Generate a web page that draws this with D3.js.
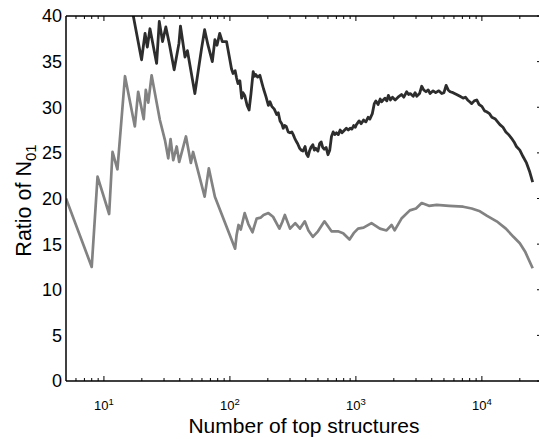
<!DOCTYPE html>
<html>
<head>
<meta charset="utf-8">
<script src="https://cdn.jsdelivr.net/npm/d3@7"></script>
<style>
  html, body { margin: 0; padding: 0; background: #fff; }
  svg { display: block; font-family: "Liberation Sans", Arial, sans-serif; }
</style>
</head>
<body>
<svg id="chart" width="539" height="439"></svg>
<script>
// Ratio of N01 against the number of top structures (log scale)
const darkN = [16, 17, 19.9, 21.2, 22.1, 23.2, 26.2, 27.5, 29.2, 31, 33, 36.1, 39.4, 40.5, 44, 46, 52.7, 59.5, 63, 67, 72.5, 76, 79, 83, 87, 94,
  99, 103, 106, 110, 113, 116, 120, 124, 127, 131, 137, 142, 147, 153, 157, 160, 166, 173, 180, 185, 193, 202, 208, 215, 225, 235, 242, 250, 258, 265, 272, 280, 290, 300, 310, 318, 327, 335, 345, 358, 368,
  380, 395, 405, 417, 428, 440, 455, 468, 480, 500, 515, 530, 545, 560, 580, 600, 620, 640, 660, 680, 700, 725, 750, 775, 800, 840, 870, 900, 930, 960, 990,
  1010, 1060, 1100, 1150, 1200, 1250, 1290, 1350, 1400, 1440, 1500, 1560, 1600, 1700, 1760, 1810, 1880, 1950, 2050, 2160, 2300, 2400, 2530, 2620, 2700, 2850, 2950, 3040, 3200, 3330, 3450, 3600, 3750, 3880, 4100, 4300, 4550, 4800, 5000, 5200, 5400, 5600, 5900, 6300, 6700, 7100, 7400, 7700, 8000, 8300, 8700, 9100, 9500, 10000, 10500, 10900, 11500, 12000, 12800, 13900, 14700, 15500, 16300, 17200, 18000, 18800, 20000, 21200, 22600, 24000, 25300];
const darkV = [42.0, 40.2, 35.2, 38.1, 36.6, 38.6, 34.8, 39.4, 37.2, 38.8, 37.0, 34.1, 37.0, 38.9, 35.5, 36.2, 31.5, 36.4, 38.5, 36.8, 35.0, 37.4, 36.8, 38.1, 37.2, 37.2,
  35.5, 34.2, 33.7, 34.0, 33.2, 32.6, 32.9, 31.0, 31.6, 31.3, 30.2, 29.7, 31.5, 33.9, 33.4, 33.6, 33.3, 33.5, 32.6, 32.0, 31.2, 30.2, 30.6, 30.1, 29.8, 29.2, 29.4, 28.5, 28.2, 27.7, 28.0, 27.9, 27.3, 27.2, 27.3, 27.0, 26.6, 26.3, 26.0, 25.5, 25.3,
  25.2, 25.7, 24.9, 24.6, 25.2, 25.6, 25.9, 25.3, 25.5, 25.2, 26.0, 26.2, 25.6, 25.4, 25.6, 24.8, 25.3, 26.8, 27.3, 27.0, 27.2, 27.0, 27.5, 27.2, 27.4, 27.7, 27.5, 27.7, 27.6, 28.0, 27.8,
  28.1, 28.5, 28.2, 28.6, 28.4, 28.9, 28.7, 29.3, 30.4, 30.7, 30.3, 30.9, 30.6, 31.0, 30.7, 31.3, 30.8, 31.1, 30.8, 31.1, 31.4, 31.1, 31.7, 31.4, 31.5, 31.2, 31.6, 31.2, 31.5, 32.3, 31.9, 31.7, 31.9, 31.5, 31.8, 31.6, 31.8, 31.5, 31.6, 32.4, 31.9, 31.7, 31.6, 31.4, 31.2, 31.0, 31.1, 30.8, 30.6, 30.4, 30.7, 30.8, 30.3, 30.1, 29.6, 29.5, 29.3, 28.9, 28.7, 28.1, 27.8, 27.3, 27.0, 26.6, 26.2, 25.7, 25.3, 24.6, 23.9, 22.9, 21.8];

const grayN = [5, 8, 8.9, 11, 11.7, 12.8, 14.7, 17.6, 18.7, 20.7, 21.5, 22.5, 23.9, 27.8, 30.5, 32.4, 33.8, 35.5, 37.8, 39.6, 44.8, 49, 51, 63, 68, 76, 110, 113, 117, 122, 131, 140, 151, 163, 175, 185, 202, 220, 247, 260, 273, 300, 330, 360, 393, 420, 455, 500, 563, 640, 720, 792, 890, 960, 1040, 1150, 1330, 1550, 1750, 1920, 2030, 2300, 2680, 3000, 3330, 3800, 4380, 5500, 7100, 8300, 9650, 11000, 13100, 15500, 17800, 20000, 22000, 25300];
const grayV = [20.0, 12.5, 22.4, 18.3, 25.1, 23.2, 33.4, 27.9, 31.7, 28.7, 31.9, 30.5, 33.5, 28.6, 26.4, 24.4, 26.5, 24.2, 25.7, 24.0, 26.8, 23.9, 25.1, 20.2, 23.3, 20.2, 14.5, 16.0, 17.1, 16.6, 18.4, 17.2, 16.3, 17.8, 17.9, 18.2, 18.4, 18.0, 16.7, 17.4, 18.2, 16.7, 17.3, 16.7, 17.5, 16.5, 15.8, 16.4, 17.5, 16.4, 16.4, 16.2, 15.5, 16.2, 16.7, 16.8, 17.3, 16.7, 16.5, 17.1, 16.5, 17.8, 18.7, 18.9, 19.5, 19.2, 19.3, 19.2, 19.1, 18.9, 18.6, 18.1, 17.5, 16.7, 15.8, 15.1, 14.2, 12.35];

const yTicks = [0, 5, 10, 15, 20, 25, 30, 35, 40];
const xMajor = [10, 100, 1000, 10000];
const xMinor = [6, 7, 8, 9, 20, 30, 40, 50, 60, 70, 80, 90, 200, 300, 400, 500, 600, 700, 800, 900, 2000, 3000, 4000, 5000, 6000, 7000, 8000, 9000, 20000];

const L = 66, R = 542, T = 16, B = 381;
const svg = d3.select("#chart");

const x = d3.scaleLog().domain([5, 30000]).range([L, R]);
const y = d3.scaleLinear().domain([0, 40]).range([B, T]);

svg.append("defs").append("clipPath").attr("id", "plotclip")
  .append("rect").attr("x", L).attr("y", T).attr("width", R - L).attr("height", B - T);

// series
const line = d3.line().x(d => x(d[0])).y(d => y(d[1]));
const plot = svg.append("g").attr("clip-path", "url(#plotclip)");
plot.append("path").datum(d3.zip(grayN, grayV))
  .attr("d", line).attr("fill", "none").attr("stroke", "#828282")
  .attr("stroke-width", 2.7).attr("stroke-linejoin", "round");
plot.append("path").datum(d3.zip(darkN, darkV))
  .attr("d", line).attr("fill", "none").attr("stroke", "#2d2d2d")
  .attr("stroke-width", 2.8).attr("stroke-linejoin", "round");

// frame
const frame = svg.append("g").attr("stroke", "#000").attr("fill", "none");
frame.append("line").attr("x1", L).attr("x2", L).attr("y1", T).attr("y2", B).attr("stroke-width", 1.5);
frame.append("line").attr("x1", L).attr("x2", R).attr("y1", B).attr("y2", B).attr("stroke-width", 1.5);
frame.append("line").attr("x1", L).attr("x2", R).attr("y1", T).attr("y2", T).attr("stroke-width", 1.5);
frame.append("line").attr("x1", R).attr("x2", R).attr("y1", T).attr("y2", B).attr("stroke-width", 1.5);

// inward ticks on bottom and top
function xTicks(vals, len) {
  vals.forEach(v => {
    frame.append("line").attr("x1", x(v)).attr("x2", x(v)).attr("y1", B).attr("y2", B - len).attr("stroke-width", 1);
    frame.append("line").attr("x1", x(v)).attr("x2", x(v)).attr("y1", T).attr("y2", T + len).attr("stroke-width", 1);
  });
}
xTicks(xMajor, 5);
xTicks(xMinor, 3);
// inward ticks on the right edge
yTicks.forEach(v => {
  frame.append("line").attr("x1", R).attr("x2", R - 5).attr("y1", y(v)).attr("y2", y(v)).attr("stroke-width", 1);
});

// y tick labels
svg.append("g").selectAll("text").data(yTicks).join("text")
  .attr("x", L - 4).attr("y", d => y(d)).attr("dy", "0.36em")
  .attr("text-anchor", "end").attr("font-size", 18).attr("fill", "#000")
  .text(d => d);

// x tick labels as powers of ten
const xl = svg.append("g").selectAll("text").data(xMajor).join("text")
  .attr("x", d => x(d)).attr("y", 410).attr("text-anchor", "middle")
  .attr("font-size", 13).attr("fill", "#000");
xl.append("tspan").text("10");
xl.append("tspan").attr("dy", -5).attr("font-size", 9.5).text(d => Math.round(Math.log10(d)));

// axis titles
svg.append("text").attr("x", (L + R) / 2).attr("y", 433).attr("text-anchor", "middle")
  .attr("font-size", 21).attr("fill", "#000").text("Number of top structures");

const yt = svg.append("text").attr("transform", `translate(31,${(T + B) / 2 + 2}) rotate(-90)`)
  .attr("text-anchor", "middle").attr("font-size", 21.5).attr("fill", "#000");
yt.append("tspan").text("Ratio of N");
yt.append("tspan").attr("dy", 5).attr("font-size", 15).text("01");
</script>
</body>
</html>
